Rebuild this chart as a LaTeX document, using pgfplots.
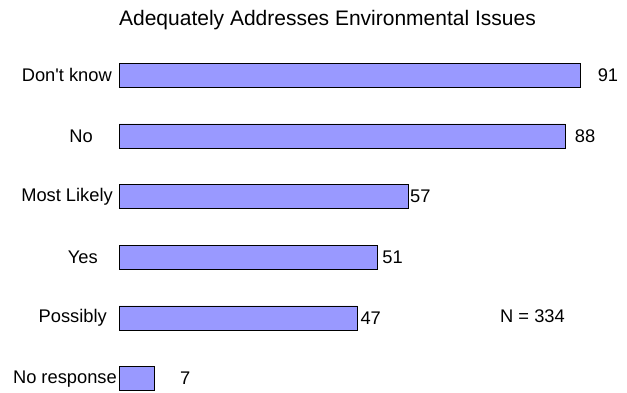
\documentclass[border=0pt]{standalone}
\usepackage{fontspec}
\setmainfont{Liberation Sans}[Ligatures=TeXOff]
\usepackage{pgfplots}
\pgfplotsset{compat=1.18}
\usepackage{pgfplotstable}

\definecolor{barblue}{HTML}{9999FF}

% y: 0 = No response ... 5 = Don't know
\pgfplotstableread{
y  v   lx
0  7   12.0
1  47  47.6
2  51  51.9
3  57  57.4
4  88  89.9
5  91  94.4
}\answers

\newcommand{\lbl}{\fontsize{18.3bp}{22bp}\selectfont}
\newcommand{\gap}[1]{\rule{#1bp}{0pt}}

\begin{document}
\begin{tikzpicture}
\begin{axis}[
    at={(119bp,2.2bp)}, anchor=south west,
    scale only axis, width=507bp, height=345.9bp,
    xmin=0, xmax=100, ymin=-0.2, ymax=5.5,
    axis lines*=left, axis line style={draw=none},
    xtick=\empty, ytick={0,...,5}, major tick length=0pt,
    yticklabels={No response\gap{2}, Possibly\gap{12}, Yes\gap{21},
                 Most Likely\gap{6}, No\gap{26}, Don't know\gap{7}},
    yticklabel style={anchor=east, inner sep=0pt, font=\lbl},
    clip=false,
]
\addplot[xbar, bar width=24bp, fill=barblue, draw=black, line width=0.8bp]
    table[x=v, y=y] {\answers};
\addplot[draw=none, mark=none, nodes near coords, point meta=explicit symbolic,
    every node near coord/.style={anchor=west, inner sep=0pt, font=\lbl}]
    table[x=lx, y=y, meta=v] {\answers};
\end{axis}
\node[anchor=base, inner sep=0pt, font=\fontsize{21bp}{25bp}\selectfont]
    at (327.5bp,367bp) {Adequately Addresses Environmental Issues};
\node[inner sep=0pt, font=\lbl] at (532.5bp,76.3bp) {N = 334};
\pgfresetboundingbox
\path (0,0) rectangle (627bp,393bp);
\end{tikzpicture}
\end{document}
